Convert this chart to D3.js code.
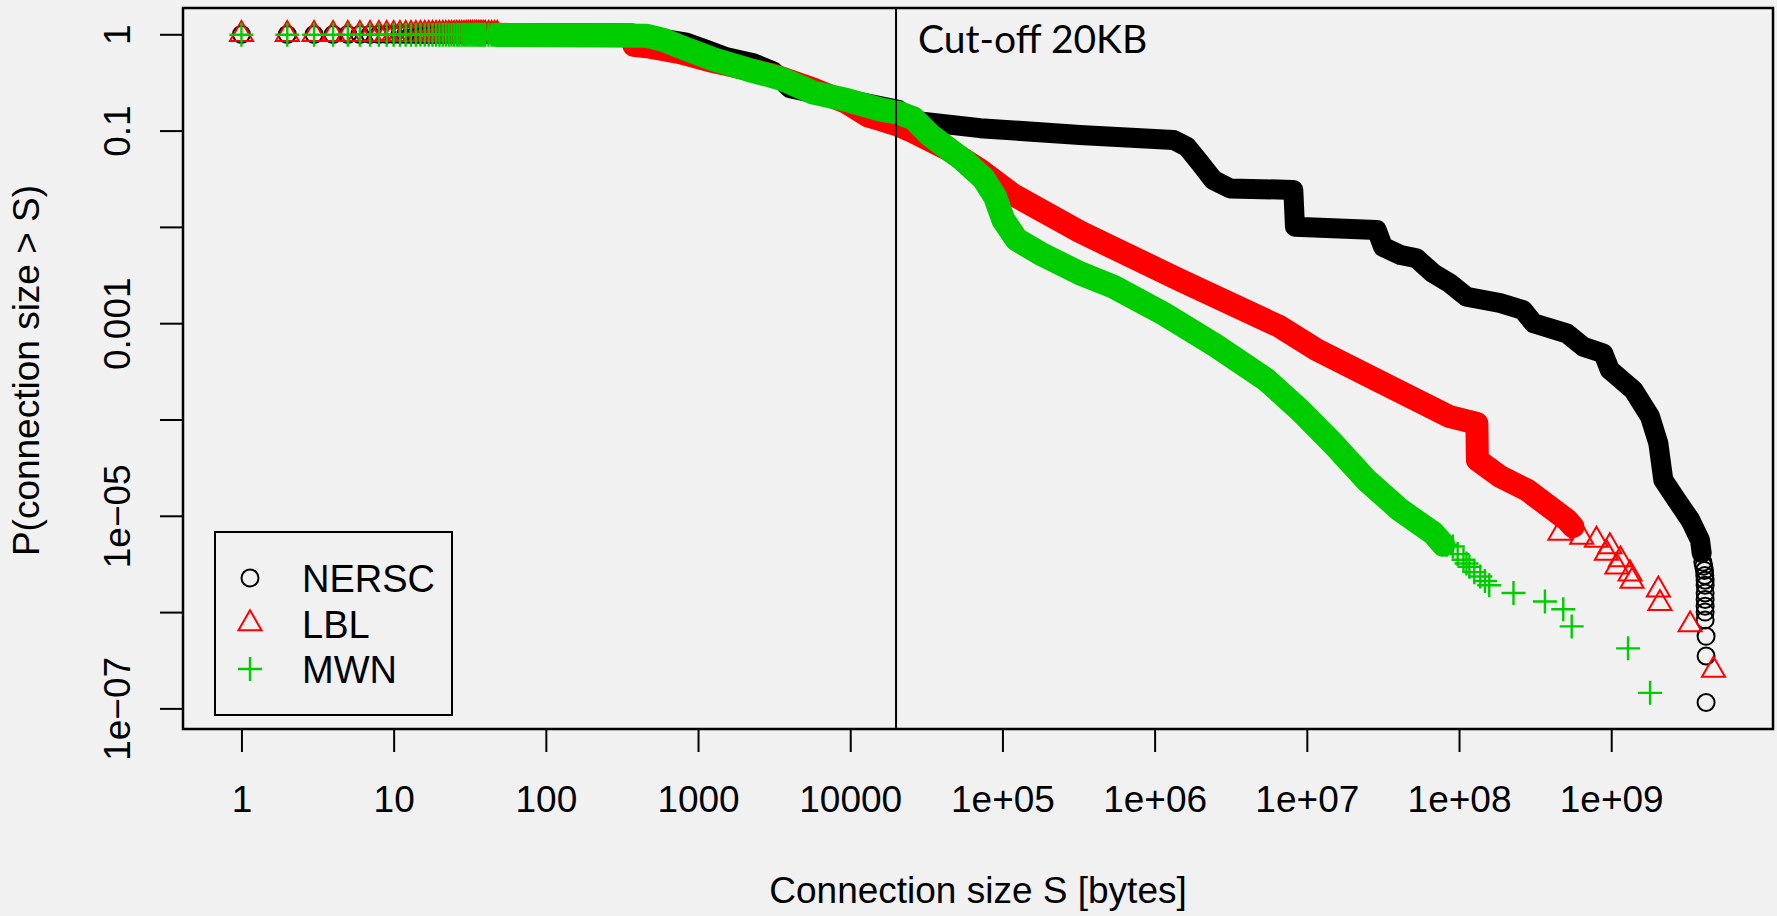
<!DOCTYPE html>
<html>
<head>
<meta charset="utf-8">
<script src="https://cdn.jsdelivr.net/npm/d3@7"></script>
<style>
  html, body { margin: 0; padding: 0; background: #f1f1f1; }
  svg { display: block; }
  text { font-family: 'Liberation Sans', Arial, Helvetica, sans-serif; fill: #000; }
</style>
</head>
<body>
<div id="chart-container"></div>
<script>
// series
const seriesNames = ['NERSC', 'LBL', 'MWN'];
const seriesColors = ['#000000', '#ff0000', '#00cd00'];

// connection sizes of the single markers at the head (bytes) and their level
const headSizes = [1, 2, 3, 4, 5, 6, 7, 8, 9, 10, 11, 12, 13, 14, 15, 16, 17, 18, 19, 20,
  21, 22, 23, 24, 25, 26, 27, 28, 29, 30, 31, 32, 33, 34, 35, 36, 37, 38, 39, 40, 42, 44, 46, 48];
const headProb = [0.995, 0.998, 0.99];

// dense part of each CCDF: [size, P(size > S)]
const nerscBand = [
  [48, 0.995], [280, 0.985], [620, 0.887], [840, 0.818], [1140, 0.687], [1545, 0.577],
  [2310, 0.5], [3125, 0.41], [4020, 0.275], [5170, 0.253], [9480, 0.211], [20700, 0.164],
  [26000, 0.127], [71300, 0.106], [323000, 0.09], [1.33e6, 0.08], [1.63e6, 0.068],
  [1.99e6, 0.046], [2.43e6, 0.0307], [3.13e6, 0.0251], [8.15e6, 0.0242], [8.36e6, 0.01005],
  [2.88e7, 0.0093], [3.17e7, 0.0062], [4.14e7, 0.0051], [5.25e7, 0.00472], [6.76e7, 0.0033],
  [8.7e7, 0.0026], [1.12e8, 0.00188], [1.86e8, 0.00162], [2.63e8, 0.00137], [3.09e8, 0.001],
  [5.1e8, 7.85e-4], [6.56e8, 5.7e-4], [8.87e8, 4.86e-4], [9.8e8, 3.27e-4], [1.4e9, 2.02e-4],
  [1.8e9, 1.07e-4], [2.04e9, 5.66e-5], [2.2e9, 2.35e-5], [2.69e9, 1.46e-5], [3.3e9, 9.1e-6],
  [3.83e9, 5.6e-6], [3.93e9, 4.1e-6]
];
const lblBand = [
  [48, 0.998], [370, 0.99], [378, 0.77], [462, 0.743], [762, 0.644], [1259, 0.52],
  [3125, 0.378], [5730, 0.27], [9480, 0.195], [13100, 0.142], [15700, 0.13], [20200, 0.115],
  [26000, 0.097], [43000, 0.065], [71300, 0.039], [118000, 0.0215], [323000, 0.0089],
  [1.47e6, 0.0028], [6.65e6, 9.2e-4], [1.16e7, 5.3e-4], [3.17e7, 2.38e-4], [8.7e7, 1.07e-4],
  [1.31e8, 9.1e-5], [1.32e8, 3.8e-5], [1.86e8, 2.56e-5], [2.8e8, 1.85e-5], [5.1e8, 9.1e-6],
  [5.6e8, 7.7e-6]
];
const mwnBand = [
  [48, 0.985], [462, 0.965], [592, 0.873], [762, 0.743], [1259, 0.55], [2090, 0.433],
  [3459, 0.349], [5728, 0.248], [9480, 0.208], [15700, 0.166], [20700, 0.153], [26000, 0.134],
  [33400, 0.09], [55300, 0.0495], [75000, 0.032], [89400, 0.0206], [101500, 0.0118],
  [124000, 0.0074], [177000, 0.0053], [323000, 0.0033], [535000, 0.0024], [1.14e6, 0.00126],
  [2.5e6, 5.9e-4], [5.45e6, 2.57e-4], [9.0e6, 1.25e-4], [1.49e7, 5.6e-5], [2.47e7, 2.34e-5],
  [4.1e7, 1.15e-5], [6.77e7, 6.6e-6], [7.9e7, 5.0e-6]
];

// sparse tail markers
const nerscTail = [
  [4.0e9, 3.3e-6], [4.05e9, 3.0e-6], [4.1e9, 2.7e-6], [4.12e9, 2.4e-6], [4.14e9, 2.14e-6],
  [4.14e9, 1.9e-6], [4.14e9, 1.58e-6], [4.14e9, 1.35e-6], [4.14e9, 1.15e-6], [4.14e9, 1.0e-6],
  [4.14e9, 8.3e-7], [4.2e9, 5.6e-7], [4.2e9, 3.5e-7], [4.2e9, 1.15e-7]
];
const lblTail = [
  [4.6e8, 6.6e-6], [6.4e8, 6.0e-6], [8.0e8, 5.6e-6], [9.3e8, 4.1e-6], [9.8e8, 4.8e-6],
  [1.09e9, 2.95e-6], [1.15e9, 3.5e-6], [1.33e9, 2.5e-6], [1.37e9, 2.1e-6], [2.04e9, 1.7e-6],
  [2.09e9, 1.23e-6], [3.3e9, 7.4e-7], [4.7e9, 2.5e-7]
];
const mwnTail = [
  [8.3e7, 5.0e-6], [9.1e7, 4.8e-6], [9.8e7, 4.0e-6], [1.07e8, 3.5e-6], [1.12e8, 3.2e-6],
  [1.17e8, 2.95e-6], [1.26e8, 2.6e-6], [1.38e8, 2.34e-6], [1.48e8, 2.1e-6], [1.58e8, 1.9e-6],
  [2.28e8, 1.58e-6], [3.67e8, 1.29e-6], [4.84e8, 1.07e-6], [5.5e8, 7.1e-7], [1.29e9, 4.2e-7],
  [1.8e9, 1.45e-7]
];

// axes
const xTicks = [1, 10, 100, 1000, 1e4, 1e5, 1e6, 1e7, 1e8, 1e9];
const xTickLabels = ['1', '10', '100', '1000', '10000', '1e+05', '1e+06', '1e+07', '1e+08', '1e+09'];
const yTicks = [1, 0.1, 0.01, 0.001, 1e-4, 1e-5, 1e-6, 1e-7];
const yTickLabels = ['1', '0.1', '', '0.001', '', '1e\u221205', '', '1e\u221207'];
const cutoff = 20000;

function createChart(elementId) {
  const width = 1777;
  const height = 916;
  const margins = { top: 8, right: 4, bottom: 187, left: 183 };
  const innerWidth = width - margins.left - margins.right;
  const innerHeight = height - margins.top - margins.bottom;
  const fontSize = '37px';

  const svg = d3.select(elementId)
    .append('svg')
    .attr('width', width)
    .attr('height', height);

  svg.append('rect')
    .attr('width', width)
    .attr('height', height)
    .attr('fill', '#f1f1f1');

  const g = svg.append('g')
    .attr('transform', `translate(${margins.left},${margins.top})`);

  const xScale = d3.scaleLog()
    .domain([Math.pow(10, -0.384), Math.pow(10, 10.063)])
    .range([0, innerWidth]);

  const yScale = d3.scaleLog()
    .domain([Math.pow(10, -7.214), Math.pow(10, 0.273)])
    .range([innerHeight, 0]);

  // axes
  const xAxis = g.append('g')
    .attr('class', 'x-axis')
    .attr('transform', `translate(0,${innerHeight})`)
    .call(d3.axisBottom(xScale).tickValues(xTicks).tickFormat((d, i) => xTickLabels[i]).tickSize(23));
  xAxis.select('.domain').remove();
  xAxis.selectAll('line').attr('stroke', '#000').attr('stroke-width', 2);
  xAxis.selectAll('text')
    .attr('y', 83)
    .attr('dy', null)
    .attr('fill', '#000')
    .style('font-size', fontSize);

  const yAxis = g.append('g')
    .attr('class', 'y-axis')
    .call(d3.axisLeft(yScale).tickValues(yTicks).tickFormat((d, i) => yTickLabels[i]).tickSize(23));
  yAxis.select('.domain').remove();
  yAxis.selectAll('line').attr('stroke', '#000').attr('stroke-width', 2);
  yAxis.selectAll('text')
    .attr('x', null)
    .attr('dy', null)
    .attr('fill', '#000')
    .attr('text-anchor', 'middle')
    .attr('transform', 'translate(-53,0) rotate(-90)')
    .style('font-size', fontSize);

  // markers
  const plus = {
    draw(ctx, size) {
      const r = Math.sqrt(size) / 2;
      ctx.moveTo(-r, 0); ctx.lineTo(r, 0);
      ctx.moveTo(0, -r); ctx.lineTo(0, r);
    }
  };
  const symbols = [
    d3.symbol().type(d3.symbolCircle).size(227),
    d3.symbol().type(d3.symbolTriangle2).size(380),
    d3.symbol().type(plus).size(576)
  ];
  const markerStroke = [2, 2, 2.4];
  const bandWidth = [20, 23, 24];

  const bands = [nerscBand, lblBand, mwnBand];
  const tails = [nerscTail, lblTail, mwnTail];

  const line = d3.line()
    .x(d => xScale(d[0]))
    .y(d => yScale(d[1]));

  const plotArea = g.append('g').attr('class', 'points');

  seriesNames.forEach((name, i) => {
    const sg = plotArea.append('g').attr('class', 'series ' + name);

    sg.append('path')
      .datum(bands[i])
      .attr('d', line)
      .attr('fill', 'none')
      .attr('stroke', seriesColors[i])
      .attr('stroke-width', bandWidth[i])
      .attr('stroke-linejoin', 'round')
      .attr('stroke-linecap', 'round');

    const pts = headSizes.map(s => [s, headProb[i]]).concat(tails[i]);

    sg.selectAll('path.mark')
      .data(pts)
      .enter()
      .append('path')
      .attr('class', 'mark')
      .attr('transform', d => `translate(${xScale(d[0])},${yScale(d[1])})`)
      .attr('d', symbols[i]())
      .attr('fill', 'none')
      .attr('stroke', seriesColors[i])
      .attr('stroke-width', markerStroke[i]);
  });

  // cut-off line and label
  g.append('line')
    .attr('x1', xScale(cutoff))
    .attr('x2', xScale(cutoff))
    .attr('y1', 0)
    .attr('y2', innerHeight)
    .attr('stroke', '#000')
    .attr('stroke-width', 2);

  g.append('text')
    .attr('x', xScale(cutoff) + 22)
    .attr('y', 45)
    .text('Cut-off 20KB')
    .style('font-family', 'Lato, "Open Sans", sans-serif')
    .style('font-size', '39px');

  // frame
  g.append('rect')
    .attr('width', innerWidth)
    .attr('height', innerHeight)
    .attr('fill', 'none')
    .attr('stroke', '#000')
    .attr('stroke-width', 2.5);

  // axis titles
  svg.append('text')
    .attr('x', margins.left + innerWidth / 2)
    .attr('y', 903)
    .attr('text-anchor', 'middle')
    .text('Connection size S [bytes]')
    .style('font-size', fontSize);

  svg.append('text')
    .attr('transform', `translate(39,${margins.top + innerHeight / 2 + 2}) rotate(-90)`)
    .attr('text-anchor', 'middle')
    .text('P(connection size > S)')
    .style('font-size', fontSize);

  // legend
  const legend = svg.append('g')
    .attr('class', 'legend')
    .attr('transform', 'translate(215,532)');

  legend.append('rect')
    .attr('width', 237)
    .attr('height', 183)
    .attr('fill', 'none')
    .attr('stroke', '#000')
    .attr('stroke-width', 2);

  const rows = seriesNames.map((name, i) => ({ name: name, i: i, y: 46 + i * 45.5 }));

  legend.selectAll('path')
    .data(rows)
    .enter()
    .append('path')
    .attr('transform', d => `translate(35,${d.y})`)
    .attr('d', d => symbols[d.i]())
    .attr('fill', 'none')
    .attr('stroke', d => seriesColors[d.i])
    .attr('stroke-width', d => markerStroke[d.i]);

  legend.selectAll('text')
    .data(rows)
    .enter()
    .append('text')
    .attr('x', 87)
    .attr('y', d => d.y + 14)
    .text(d => d.name)
    .style('font-size', '38px');
}

createChart('#chart-container');
</script>
</body>
</html>
